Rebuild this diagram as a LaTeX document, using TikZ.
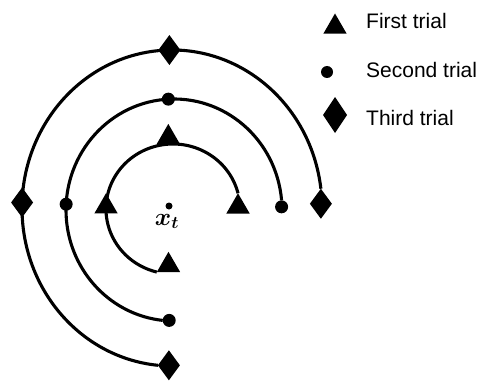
\documentclass[tikz,border=0pt]{standalone}
\usepackage{bm}
\usepackage{fontspec}
\newfontfamily\legendfont{Liberation Sans}
\usetikzlibrary{shapes.geometric}
\begin{document}
\begin{tikzpicture}[x=1pt,y=1pt,
  arcl/.style={line width=3.1pt},
  tri/.style={regular polygon, regular polygon sides=3, fill=black, inner sep=0pt, outer sep=0pt, minimum size=27pt},
  dotm/.style={circle, fill=black, inner sep=0pt, outer sep=0pt, minimum size=13pt},
  dia/.style={diamond, fill=black, inner sep=0pt, outer sep=0pt, minimum width=22pt, minimum height=30pt},
  legtext/.style={anchor=base west, font={\legendfont\fontsize{21}{25}\selectfont}, inner sep=0pt},
  xlab/.style={anchor=base, font={\fontsize{23}{27}\selectfont}, inner sep=0pt}]
\useasboundingbox (0,0) rectangle (478,389);
% centres of the three arcs
\coordinate (Ci) at (173,180);
\coordinate (Cm) at (174,179);
\coordinate (Co) at (172,181);
% inner arc (first trial)
\path (Ci) ++(14:67pt and 65pt) coordinate (i0);
\draw[arcl] (i0) arc[start angle=14,end angle=256,x radius=67,y radius=65] coordinate (i3);
\path (Ci) ++(94:67pt and 65pt) coordinate (i1);
\path (Ci) ++(178:67pt and 65pt) coordinate (i2);
% middle arc (second trial)
\path (Cm) ++(5:108pt and 111pt) coordinate (m0);
\draw[arcl] (m0) arc[start angle=5,end angle=264,x radius=108,y radius=111] coordinate (m3);
\path (Cm) ++(93:108pt and 111pt) coordinate (m1);
\path (Cm) ++(177:108pt and 111pt) coordinate (m2);
% outer arc (third trial)
\path (Co) ++(7:150pt and 158pt) coordinate (o0);
\draw[arcl] (o0) arc[start angle=7,end angle=264.6,x radius=150,y radius=158] coordinate (o3);
\path (Co) ++(91:150pt and 158pt) coordinate (o1);
\path (Co) ++(178:150pt and 158pt) coordinate (o2);
% markers
\node[tri, anchor=north] (ta) at (i0) {};
\node[tri, anchor=south] (tb) at (i1) {};
\node[tri] (tc) at (i2) {};
\node[tri, anchor=corner 2] (td) at (i3) {};
\node[dotm, anchor=north] (ma) at (m0) {};
\node[dotm] (mb) at (m1) {};
\node[dotm] (mc) at (m2) {};
\node[dotm, anchor=west] (md) at (m3) {};
\node[dia, anchor=north] (da) at (o0) {};
\node[dia] (db) at (o1) {};
\node[dia] (dc) at (o2) {};
\node[dia, anchor=west] (dd) at (o3) {};
% centre point
\node[circle, fill=black, minimum size=7pt, inner sep=0pt] (xt) at (169,183) {};
\node[xlab] (xtl) at (167,164) {$\bm{x_t}$};
% legend
\node[tri] (lt) at (335,362) {};
\node[dotm, minimum size=12pt] (lc) at (327,317) {};
\node[dia, minimum width=24pt, minimum height=36pt] (ld) at (335,274) {};
\node[legtext] (ltt) at (366,360) {First trial};
\node[legtext] (lct) at (366,312) {Second trial};
\node[legtext] (ldt) at (366,264) {Third trial};
\end{tikzpicture}
\end{document}
